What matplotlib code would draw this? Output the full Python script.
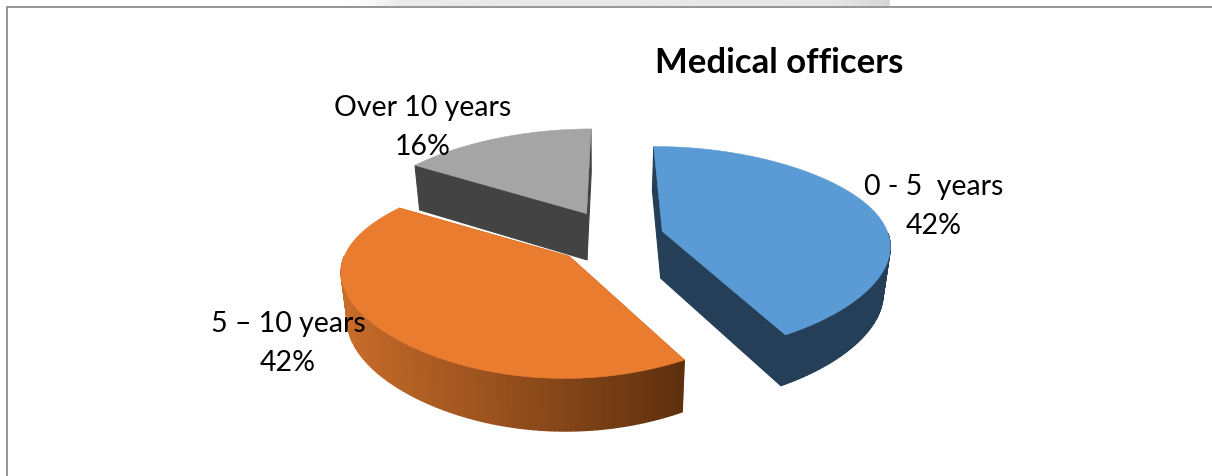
#!/usr/bin/env python3
import numpy as np
import matplotlib
matplotlib.use("Agg")
import matplotlib.pyplot as plt
from matplotlib.colors import to_rgb
from matplotlib.patches import Polygon

# slices in the order they go round the pie, clockwise
LABELS = ["0 - 5  years", "5 – 10 years", "Over 10 years"]
VALUES = [42, 42, 16]
TOP_COLORS = ["#5b9bd5", "#ea7c30", "#a5a5a5"]
WALL_LEFT = ["#243f57", "#c86c2a", "#434343"]
WALL_RIGHT = ["#243f57", "#5f300e", "#434343"]
EXPLODE = [0.214, 0.285, 0.265]
LABEL_POS = [(934, 187), (288, 324), (423, 108)]

# pie layout in pixels
CX, CY = 615.7, 237.8
RX, RY = 225.0, 100.0
PERSP_Y = 0.18
PERSP_X = 0.145
PERSP_X_SLOPE = 0.06
VP_X = 620.0
DEPTH = 47.0
VANISH_X = 600.0
START_DEG = -0.4
LINE_GAP = 39


def rim(apex, theta):
    x_unit, y_unit = np.sin(theta), np.cos(theta)
    scale_y = 1.0 / (1.0 + PERSP_Y * y_unit)
    scale_x = 1.0 / (1.0 + (PERSP_X + PERSP_X_SLOPE * y_unit) * y_unit)
    x = VP_X + (apex[0] - VP_X + RX * x_unit) * scale_x
    return x, apex[1] - RY * y_unit * scale_y


def drop(x, y):
    scale = 1.0 / (1.0 + 0.151 * (CY - y) / RY * 0.5)
    return x - (x - VANISH_X) * 0.025, y + DEPTH * scale


def draw_slice(ax, idx, start, sweep):
    mid = start + sweep / 2
    apex = (
        CX + EXPLODE[idx] * RX * np.sin(mid),
        CY - EXPLODE[idx] * RY * np.cos(mid),
    )
    thetas = np.linspace(start, start + sweep, 120)
    xs, ys = rim(apex, thetas)

    # radial faces
    for fx, fy in [(xs[0], ys[0]), (xs[-1], ys[-1])]:
        bx, by = drop(fx, fy)
        ax_, ay_ = drop(*apex)
        ax.add_patch(Polygon([(fx, fy), apex, (ax_, ay_), (bx, by)],
                             closed=True, fc=WALL_LEFT[idx], ec=WALL_LEFT[idx], lw=0.8))

    # outer wall, shaded left to right
    left, right = to_rgb(WALL_LEFT[idx]), to_rgb(WALL_RIGHT[idx])
    x_lo, x_hi = xs.min(), xs.max()
    for i in range(len(xs) - 1):
        if thetas[i] % (2 * np.pi) < np.pi / 2 or thetas[i] % (2 * np.pi) > 3 * np.pi / 2:
            continue
        t = (xs[i] - x_lo) / (x_hi - x_lo)
        col = [a + (b - a) * t for a, b in zip(left, right)]
        b0, b1 = drop(xs[i], ys[i]), drop(xs[i + 1], ys[i + 1])
        ax.add_patch(Polygon([(xs[i], ys[i]), (xs[i + 1], ys[i + 1]), b1, b0],
                             closed=True, fc=col, ec=col, lw=1.0))

    outline = np.column_stack([np.r_[apex[0], xs], np.r_[apex[1], ys]])
    ax.add_patch(Polygon(outline, closed=True, fc=TOP_COLORS[idx], ec=TOP_COLORS[idx], lw=0.4, zorder=2))


def main():
    plt.rcParams["font.family"] = ["Lato", "DejaVu Sans"]
    fig = plt.figure(figsize=(12.12, 4.77), dpi=100)
    ax = fig.add_axes([0, 0, 1, 1])
    ax.set_xlim(0, 1212)
    ax.set_ylim(477, 0)
    ax.axis("off")

    # scrap of the page above the chart box
    strip = np.interp(np.linspace(0, 1, 200), [0, 0.04, 0.09, 0.9, 1], [0.99, 0.98, 0.92, 0.9, 0.84])
    ax.imshow(strip[None, :], extent=(347, 890, 6.5, 1), cmap="gray", vmin=0, vmax=1, aspect="auto")
    ax.set_xlim(0, 1212)
    ax.set_ylim(477, 0)
    ax.plot([1212, 7, 7], [7.5, 7.5, 477], color="#8c8c8c", lw=1.3, solid_joinstyle="miter")

    sweeps = [v / sum(VALUES) * 2 * np.pi for v in VALUES]
    starts = np.radians(START_DEG) + np.cumsum([0] + sweeps[:-1])
    for idx in [2, 0, 1]:
        draw_slice(ax, idx, starts[idx], sweeps[idx])

    for label, value, (x, y) in zip(LABELS, VALUES, LABEL_POS):
        ax.text(x, y, label, ha="center", va="center", fontsize=20.5, color="black", zorder=5)
        ax.text(x, y + LINE_GAP, f"{value}%", ha="center", va="center", fontsize=20.5, color="black", zorder=5)

    ax.text(779, 63, "Medical officers", ha="center", va="center", fontsize=25,
            fontweight="bold", color="black", zorder=5)

    fig.savefig("out.png", dpi=100)


if __name__ == "__main__":
    main()
